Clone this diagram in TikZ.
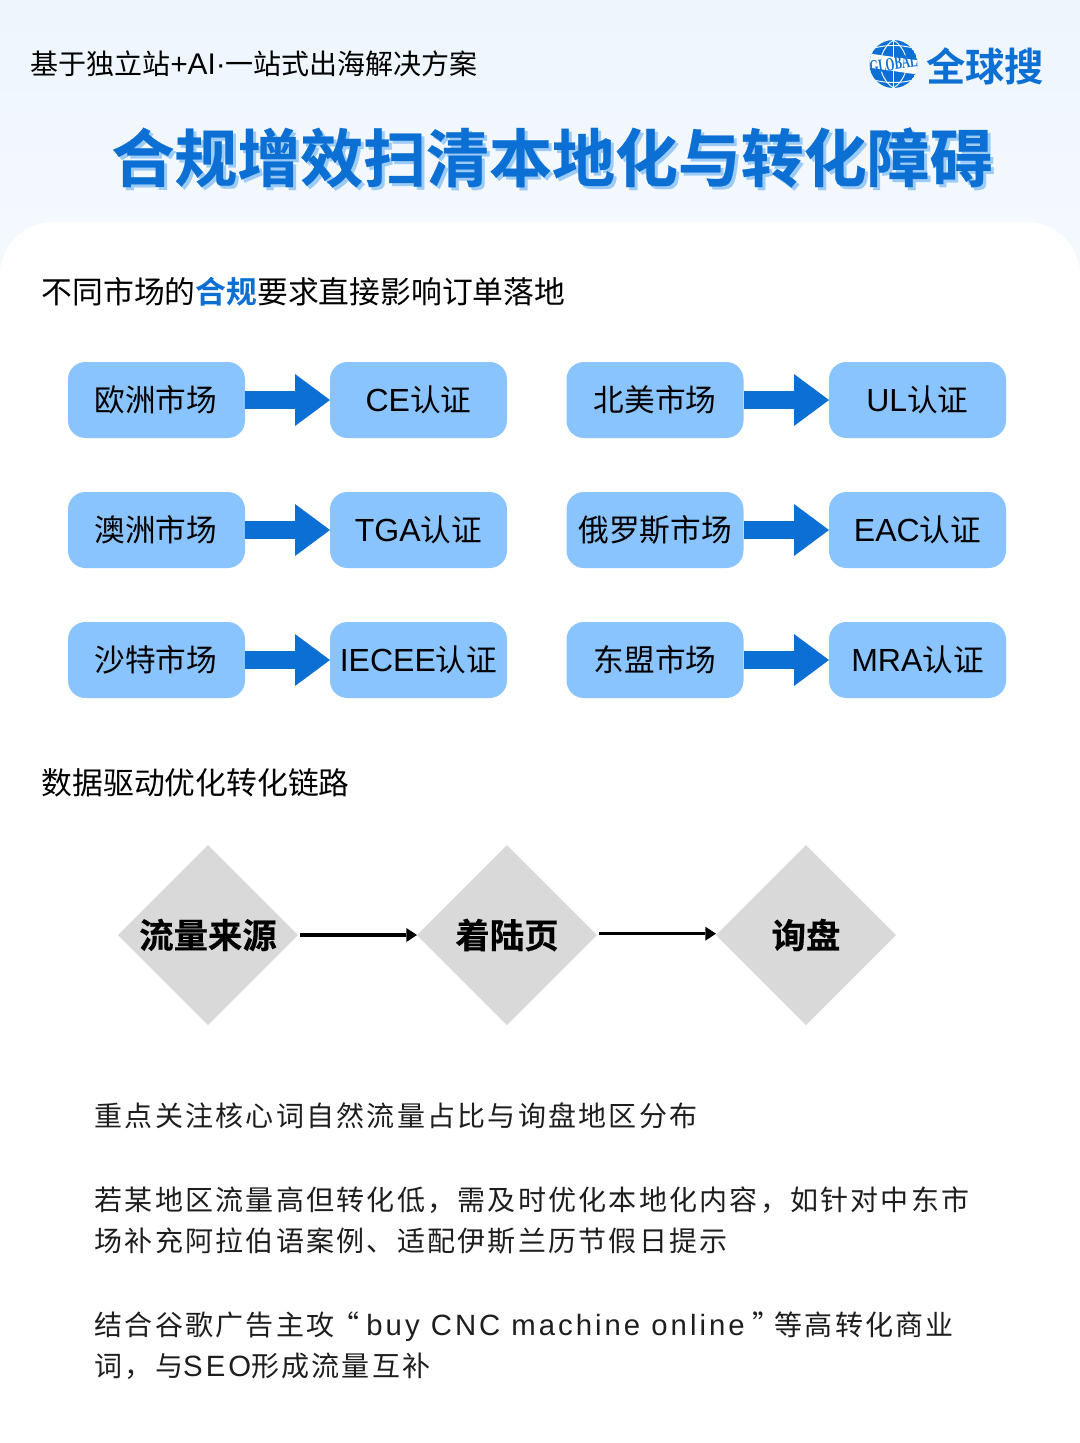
\documentclass[tikz,border=0pt]{standalone}
\usepackage{fontspec}
\usepackage{xcolor}
\usetikzlibrary{arrows.meta,shapes.geometric}
\setmainfont{Noto Sans CJK SC}
\newfontfamily\cjk{Noto Sans CJK SC}
\newfontfamily\cjkbold{Noto Sans CJK SC Bold}
\newfontfamily\cjkheavy[FakeBold=0.4]{Noto Sans CJK SC Bold}
\newfontfamily\cjkspaced[LetterSpace=8]{Noto Sans CJK SC}
\newfontfamily\lat{Liberation Sans}
\newfontfamily\latspaced[LetterSpace=10.2]{Liberation Sans}
\newfontfamily\globefont{Liberation Serif Bold}
\definecolor{TopBlue}{HTML}{EEF5FD}
\definecolor{LowBlue}{HTML}{F5FAFE}
\definecolor{BoxBlue}{HTML}{8AC4FF}
\definecolor{DeepBlue}{HTML}{0B6FD4}
\definecolor{ShadowBlue}{HTML}{9CCBF8}
\definecolor{DiamondGrey}{HTML}{D9D9D9}
\definecolor{BodyInk}{HTML}{1E1E1E}
\tikzset{
AnyBox/.style={
 fill=BoxBlue,
 rounded corners=13pt,
 minimum width=132.75pt,
 minimum height=57pt,
 inner sep=0pt,
 outer sep=0pt,
 font=\cjk\fontsize{23}{26}\selectfont
 },
FatArrow/.style={
 draw=DeepBlue,
 line width=13.5pt,
 -{Triangle[length=26.25pt,width=39pt,line width=0pt,fill=DeepBlue]}
 },
FlowDiamond/.style={
 diamond,
 fill=DiamondGrey,
 shape aspect=1,
 minimum width=135pt,
 minimum height=135pt,
 inner sep=0pt,
 outer sep=0pt,
 font=\cjkheavy\fontsize{25.8}{28}\selectfont
 },
ThinArrow/.style={
 draw=black,
 line width=2.5pt,
 shorten <=1.5pt,
 -{Triangle[length=8pt,width=10.5pt,line width=0pt]}
 },
Heading/.style={
 anchor=west,
 inner sep=0pt,
 text=black,
 font=\cjk\fontsize{23.1}{26}\selectfont
 },
BodyLine/.style={
 anchor=west,
 inner sep=0pt,
 text=BodyInk,
 text height=18.5pt,
 text depth=2.5pt,
 font=\cjkspaced\fontsize{21}{24}\selectfont
 },
TitleText/.style={
 inner sep=0pt,
 font=\cjkheavy\fontsize{47.2}{50}\selectfont
 }
}
\newcommand{\latbody}[1]{{\latspaced\fontsize{22}{24}\selectfont #1}}

\begin{document}
\begin{tikzpicture}[x=0.75pt,y=-0.75pt]
\useasboundingbox (0,0) rectangle (1080,1443);
% background
\fill[white] (0,0) rectangle (1080,1443);
\fill[top color=TopBlue,bottom color=LowBlue] (0,0) rectangle (1080,300);
\fill[white,rounded corners=40pt] (0,1500) -- (0,222) -- (1080,222) -- (1080,1500) -- cycle;
% header
\node[anchor=west,inner sep=0pt,font=\cjk\fontsize{21}{24}\selectfont] (slogan) at (30,64) {基于独立站{\lat\fontsize{22.4}{24}\selectfont +AI·}一站式出海解决方案};
% logo
\begin{scope}
\clip (893.5,64) circle (24);
\fill[DeepBlue] (893.5,64) circle (24);
\draw[white,line width=0.7pt] (868,50) .. controls (884,44) and (903,44) .. (919,50);
\draw[white,line width=0.7pt] (868,78) .. controls (884,84) and (903,84) .. (919,78);
\draw[white,line width=0.7pt] (893.5,40) -- (893.5,88);
\draw[white,line width=0.7pt] (893.5,40) .. controls (876,52) and (876,76) .. (893.5,88);
\draw[white,line width=0.7pt] (893.5,40) .. controls (911,52) and (911,76) .. (893.5,88);
\fill[white,rotate around={-8:(893.5,64)}] (866,57) rectangle (921,71);
\end{scope}
\node[inner sep=0pt,rotate=8,text=DeepBlue,font=\globefont\fontsize{14}{15}\selectfont] (globeword) at (893.5,64) {\scalebox{0.6}[1]{GLOBAL}};
\node[anchor=west,inner sep=0pt,text=DeepBlue,font=\cjkbold\fontsize{29.5}{31}\selectfont] (brand) at (926,66) {全球搜};
% title
\node[TitleText,text=ShadowBlue] (titleshadow) at (555,160.5) {合规增效扫清本地化与转化障碍};
\node[TitleText,text=DeepBlue] (title) at (552,157.5) {合规增效扫清本地化与转化障碍};
% first section
\node[Heading] (headone) at (41.5,291.7) {不同市场的{\cjkbold\color{DeepBlue}合规}要求直接影响订单落地};
\node[AnyBox] (eu) at (156.5,400) {\hspace{-1pt}欧洲市场};
\node[AnyBox] (ce) at (418.5,400) {{\lat\fontsize{24}{26}\selectfont CE}认证};
\node[AnyBox] (na) at (655,400) {北美市场};
\node[AnyBox] (ul) at (917.5,400) {{\lat\fontsize{24}{26}\selectfont UL}认证};
\node[AnyBox] (au) at (156.5,530) {\hspace{-1pt}澳洲市场};
\node[AnyBox] (tga) at (418.5,530) {{\lat\fontsize{24}{26}\selectfont TGA}认证};
\node[AnyBox] (ru) at (655,530) {俄罗斯市场};
\node[AnyBox] (eac) at (917.5,530) {{\lat\fontsize{24}{26}\selectfont EAC}认证};
\node[AnyBox] (sa) at (156.5,660) {\hspace{-1pt}沙特市场};
\node[AnyBox] (iecee) at (418.5,660) {{\lat\fontsize{24}{26}\selectfont IECEE}认证};
\node[AnyBox] (asean) at (655,660) {东盟市场};
\node[AnyBox] (mra) at (917.5,660) {{\lat\fontsize{24}{26}\selectfont MRA}认证};
\draw[FatArrow] (eu) -- (ce);
\draw[FatArrow] (na) -- (ul);
\draw[FatArrow] (au) -- (tga);
\draw[FatArrow] (ru) -- (eac);
\draw[FatArrow] (sa) -- (iecee);
\draw[FatArrow] (asean) -- (mra);
% second section
\node[Heading] (headtwo) at (41.5,782.7) {数据驱动优化转化链路};
\node[FlowDiamond] (source) at (208,935) {流量来源};
\node[FlowDiamond] (landing) at (507,935) {着陆页};
\node[FlowDiamond] (inquiry) at (806,935) {询盘};
\draw[ThinArrow] (source) -- (landing);
\draw[ThinArrow] ([yshift=1pt]landing.east) -- ([yshift=1pt]inquiry.west);
% body text
\node[BodyLine] (lineone) at (94.5,1116) {重点关注核心词自然流量占比与询盘地区分布};
\node[BodyLine] (linetwo) at (94.5,1200) {若某地区流量高但转化低，需及时优化本地化内容，如针对中东市};
\node[BodyLine] (linethree) at (94.5,1241) {场补充阿拉伯语案例、适配伊斯兰历节假日提示};
\node[BodyLine] (linefour) at (94.5,1325) {结合谷歌广告主攻\hspace{-2.5pt}“\hspace{5.5pt}\latbody{buy CNC machine online}\hspace{5.5pt}”\hspace{-4pt}等高转化商业};
\node[BodyLine] (linefive) at (94.5,1366) {词，与\latbody{SEO}形成流量互补};
\end{tikzpicture}
\end{document}
